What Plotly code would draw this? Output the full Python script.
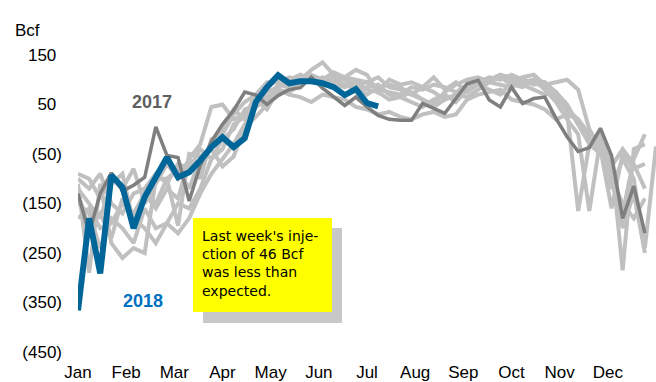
import plotly.graph_objects as go

# Weekly net change in working gas storage (Bcf), by week of year
weeks_52 = list(range(52))
weeks_53 = list(range(53))

hist_a = [-110, -290, -110, -230, -260, -240, -250, -100, -100, -195, -50, -55, -40,
          -75, -55, 5, 25, 50, 80, 75, 90, 105, 100, 115, 105, 120,
          110, 75, 100, 90, 95, 85, 105, 80, 95, 75, 90, 80, 70,
          95, 105, 110, 90, 95, 100, 80, 0, -40, -160, -50, -80, -70]
hist_b = [-90, -100, -140, -100, -120, -80, -150, -110, -70, -100, -60, -30, 45,
          50, 20, 30, 60, 40, 80, 70, 65, 55, 70, 65, 60, 45,
          40, 30, 35, 25, 20, 30, 35, 25, 30, 60, 70, 75, 80,
          60, 55, 50, 40, 20, 30, 20, -10, -20, -75, -40, -70, -120]
hist_c = [-180, -160, -200, -190, -150, -170, -130, -160, -120, -140, -60, -100, -20,
          -10, 30, 55, 70, 85, 100, 95, 110, 95, 105, 90, 85, 95,
          80, 75, 60, 65, 55, 45, 60, 70, 55, 80, 95, 105, 100,
          110, 100, 95, 85, 65, 40, 20, -20, -30, -100, -150, -180, -140]
hist_d = [-150, -170, -240, -180, -200, -230, -160, -200, -190, -150, -160, -120, -60,
          -40, 10, 25, 70, 95, 95, 105, 100, 120, 135, 110, 100, 90,
          95, 105, 85, 80, 70, 85, 75, 60, 70, 85, 90, 100, 110,
          100, 90, 80, 70, 75, 50, 10, -30, -50, -80, -200, -130, -250]
hist_e = [-100, -120, -90, -150, -170, -130, -120, -90, -110, -70, -80, -40, -60,
          -20, 0, 40, 50, 75, 85, 100, 110, 100, 95, 105, 100, 85,
          70, 85, 90, 85, 70, 60, 45, 60, 70, 65, 80, 95, 110,
          105, 95, 100, 80, 55, 20, -10, -165, -20, -60, -285, -40, -30]
hist_f = [-130, -200, -170, -220, -140, -180, -200, -230, -190, -210, -180, -130, -90,
          -60, -30, 10, 45, 60, 90, 85, 95, 105, 95, 100, 90, 80,
          85, 90, 70, 65, 75, 60, 50, 75, 90, 100, 105, 95, 90,
          85, 100, 90, 95, 70, 35, -165, -30, -10, -110, -170, -60, -10]
hist_g = [-120, -150, -180, -110, -90, -190, -130, -150, -100, -80, -120, -60, -40,
          0, 40, 20, 60, 65, 75, 80, 90, 110, 100, 95, 105, 100,
          95, 80, 75, 70, 85, 80, 90, 85, 75, 90, 100, 95, 105,
          90, 85, 100, 95, 75, 45, 10, -20, -40, -120, -60, -100, -240, -35]

y2017 = [-130, -210, -130, -88, -125, -113, -97, 5, -53, -57, -145, -73, -25,
         10, 38, 75, 69, 50, 68, 80, 84, 105, 83, 65, 48, 65,
         45, 28, 20, 18, 18, 52, 42, 32, 62, 92, 99, 59, 45,
         85, 52, 62, 65, 22, -15, -45, -37, 2, -53, -180, -115, -210]
y2018 = [-366, -180, -291, -93, -117, -200, -137, -97, -57, -97, -87, -63, -36,
         -16, -36, -18, 55, 85, 109, 93, 97, 97, 93, 85, 69, 81,
         53, 46]

months = ["Jan", "Feb", "Mar", "Apr", "May", "Jun",
          "Jul", "Aug", "Sep", "Oct", "Nov", "Dec"]
y_ticks = [150, 50, -50, -150, -250, -350, -450]

# Plot geometry (pixels)
W, H = 656, 382
ML, MR, MT, MB = 78, 0, 55, 30
X_MAX = 52
Y_MIN, Y_MAX = -450, 150
pw, ph = W - ML - MR, H - MT - MB


def px_x(p):
    return (p - ML) / pw * X_MAX


def px_y(p):
    return Y_MAX - (p - MT) / ph * (Y_MAX - Y_MIN)


def paper_x(p):
    return (p - ML) / pw


def paper_y(p):
    return 1 - (p - MT) / ph


def acct(v):
    if v < 0:
        return f"({-v})"
    return f"{v}<span style='color:rgba(0,0,0,0)'>)</span>"


month_pos = [i * X_MAX / 12 for i in range(12)]

fig = go.Figure()
for hist in [hist_a, hist_b, hist_c, hist_d, hist_e, hist_f, hist_g]:
    fig.add_trace(go.Scatter(
        x=weeks_53[:len(hist)], y=hist, mode="lines",
        line=dict(color="#c0c0c0", width=4), hoverinfo="skip", showlegend=False))
fig.add_trace(go.Scatter(
    x=weeks_52, y=y2017, mode="lines", name="2017",
    line=dict(color="#7f7f7f", width=3.5), showlegend=False))
fig.add_trace(go.Scatter(
    x=weeks_52[:len(y2018)], y=y2018, mode="lines", name="2018",
    line=dict(color="#006699", width=6), showlegend=False))

axis_gray = "#8c8c8c"
fig.update_layout(
    width=W, height=H,
    margin=dict(l=ML, r=MR, t=MT, b=MB, pad=0, autoexpand=False),
    paper_bgcolor="white", plot_bgcolor="white",
    font=dict(family="Arial", size=17, color="black"),
    xaxis=dict(range=[0, X_MAX], tickvals=month_pos, ticktext=months,
               showgrid=False, zeroline=False, showline=False, ticks="",
               ticklabelstandoff=8, automargin=False, fixedrange=True),
    xaxis2=dict(range=[0, X_MAX], overlaying="x", anchor="free",
                position=(0 - Y_MIN) / (Y_MAX - Y_MIN),
                tickvals=month_pos + [X_MAX], showticklabels=False,
                showline=True, linecolor=axis_gray, linewidth=2,
                ticks="outside", ticklen=5, tickwidth=2, tickcolor=axis_gray,
                showgrid=False, zeroline=False, automargin=False),
    yaxis=dict(range=[Y_MIN, Y_MAX], tickvals=y_ticks,
               ticktext=[acct(v) for v in y_ticks],
               showgrid=False, zeroline=False, showline=False, ticks="",
               ticklabelstandoff=15, automargin=False),
)

# Callout box with drop shadow
fig.add_shape(type="rect", xref="x", yref="y",
              x0=px_x(203), x1=px_x(342), y0=px_y(228), y1=px_y(323),
              fillcolor="#c8c8c8", line=dict(width=0), layer="above")
fig.add_shape(type="rect", xref="x", yref="y",
              x0=px_x(193), x1=px_x(332), y0=px_y(218), y1=px_y(312),
              fillcolor="#ffff00", line=dict(width=0), layer="above")
fig.add_annotation(
    x=px_x(200), y=px_y(226), xref="x", yref="y",
    xanchor="left", yanchor="top", align="left", showarrow=False,
    text="Last week's inje-<br>ction of 46 Bcf<br>was less than<br>expected.",
    font=dict(family="Comic Sans MS, DejaVu Sans, sans-serif", size=14, color="black"))

# Series labels and unit
fig.add_annotation(x=px_x(152), y=px_y(102), xref="x", yref="y", showarrow=False,
                   text="<b>2017</b>", font=dict(size=18, color="#606060"))
fig.add_annotation(x=px_x(143), y=px_y(301), xref="x", yref="y", showarrow=False,
                   text="<b>2018</b>", font=dict(size=18, color="#0070c0"))
fig.add_annotation(x=paper_x(27), y=paper_y(31), xref="paper", yref="paper",
                   xanchor="center", yanchor="middle",
                   showarrow=False, text="Bcf", font=dict(size=17, color="black"))

fig.write_html("out.html")
